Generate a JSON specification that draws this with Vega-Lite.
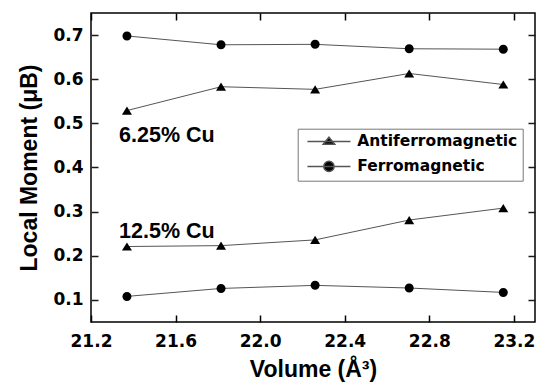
{
  "$schema": "https://vega.github.io/schema/vega-lite/v6.json",
  "width": 444,
  "height": 309,
  "autosize": {"type": "none"},
  "padding": {"left": 91, "top": 13, "right": 1, "bottom": 65},
  "background": "white",
  "config": {
    "view": {"stroke": "black", "strokeWidth": 1.5},
    "axis": {
      "grid": false,
      "domain": false,
      "labelFont": "DejaVu Sans",
      "labelFontWeight": "bold",
      "labelFontSize": 17,
      "labelColor": "black",
      "labelOverlap": false,
      "labelBound": false,
      "titleFont": "Liberation Sans",
      "titleFontWeight": "bold",
      "titleFontSize": 23,
      "titleColor": "black"
    }
  },
  "datasets": {
    "moments": [
      {"vol": 21.37, "moment": 0.529, "type": "Antiferromagnetic", "cu": "6.25%"},
      {"vol": 21.815, "moment": 0.583, "type": "Antiferromagnetic", "cu": "6.25%"},
      {"vol": 22.26, "moment": 0.577, "type": "Antiferromagnetic", "cu": "6.25%"},
      {"vol": 22.705, "moment": 0.613, "type": "Antiferromagnetic", "cu": "6.25%"},
      {"vol": 23.15, "moment": 0.588, "type": "Antiferromagnetic", "cu": "6.25%"},
      {"vol": 21.37, "moment": 0.698, "type": "Ferromagnetic", "cu": "6.25%"},
      {"vol": 21.815, "moment": 0.678, "type": "Ferromagnetic", "cu": "6.25%"},
      {"vol": 22.26, "moment": 0.679, "type": "Ferromagnetic", "cu": "6.25%"},
      {"vol": 22.705, "moment": 0.669, "type": "Ferromagnetic", "cu": "6.25%"},
      {"vol": 23.15, "moment": 0.668, "type": "Ferromagnetic", "cu": "6.25%"},
      {"vol": 21.37, "moment": 0.221, "type": "Antiferromagnetic", "cu": "12.5%"},
      {"vol": 21.815, "moment": 0.223, "type": "Antiferromagnetic", "cu": "12.5%"},
      {"vol": 22.26, "moment": 0.236, "type": "Antiferromagnetic", "cu": "12.5%"},
      {"vol": 22.705, "moment": 0.281, "type": "Antiferromagnetic", "cu": "12.5%"},
      {"vol": 23.15, "moment": 0.308, "type": "Antiferromagnetic", "cu": "12.5%"},
      {"vol": 21.37, "moment": 0.108, "type": "Ferromagnetic", "cu": "12.5%"},
      {"vol": 21.815, "moment": 0.126, "type": "Ferromagnetic", "cu": "12.5%"},
      {"vol": 22.26, "moment": 0.133, "type": "Ferromagnetic", "cu": "12.5%"},
      {"vol": 22.705, "moment": 0.127, "type": "Ferromagnetic", "cu": "12.5%"},
      {"vol": 23.15, "moment": 0.117, "type": "Ferromagnetic", "cu": "12.5%"}
    ],
    "notes": [
      {"vol": 21.333, "moment": 0.458, "label": "6.25% Cu"},
      {"vol": 21.333, "moment": 0.241, "label": "12.5% Cu"}
    ]
  },
  "data": {"name": "moments"},
  "resolve": {"axis": {"x": "independent", "y": "independent"}, "scale": {"shape": "independent"}},
  "layer": [
    {
      "mark": {"type": "line", "color": "#555555", "strokeWidth": 1},
      "encoding": {
        "x": {"field": "vol", "type": "quantitative", "scale": {"domain": [21.2, 23.3], "nice": false, "zero": false},
          "axis": {"orient": "bottom",
            "values": [21.2, 21.6, 22.0, 22.4, 22.8, 23.2],
            "format": ".1f",
            "ticks": true, "tickSize": -7, "tickColor": "#000000", "tickWidth": 1.5,
            "labelPadding": 18, "labelFlush": false, "title": "Volume (Å³)", "titlePadding": 9}},
        "y": {"field": "moment", "type": "quantitative", "scale": {"domain": [0.05, 0.75], "nice": false, "zero": false},
          "axis": {"orient": "left",
            "values": [0.1, 0.2, 0.3, 0.4, 0.5, 0.6, 0.7],
            "format": ".1f",
            "ticks": true, "tickSize": -7, "tickColor": "#1a1a1a", "tickWidth": 1.5,
            "labelPadding": 15, "title": "Local Moment (μB)", "titlePadding": 11}},
        "detail": [{"field": "type", "type": "nominal"}, {"field": "cu", "type": "nominal"}]
      }
    },
    {
      "mark": {"type": "point", "filled": true, "size": 100, "color": "black", "opacity": 1},
      "encoding": {
        "x": {"field": "vol", "type": "quantitative", "scale": {"domain": [21.2, 23.3], "nice": false, "zero": false},
          "axis": {"orient": "top",
            "values": [21.2, 21.6, 22.0, 22.4, 22.8, 23.2],
            "labels": false, "ticks": true, "tickSize": -7, "tickColor": "#000000", "tickWidth": 1.5, "title": null}},
        "y": {"field": "moment", "type": "quantitative", "scale": {"domain": [0.05, 0.75], "nice": false, "zero": false},
          "axis": {"orient": "right",
            "values": [0.1, 0.2, 0.3, 0.4, 0.5, 0.6, 0.7],
            "labels": false, "ticks": true, "tickSize": -7, "tickColor": "#1a1a1a", "tickWidth": 1.5, "title": null}},
        "shape": {
          "field": "type", "type": "nominal",
          "scale": {"domain": ["Antiferromagnetic", "Ferromagnetic"], "range": ["M-1,0.82L1,0.82L0,-0.82Z", "M-0.9,0A0.9,0.9,0,1,0,0.9,0A0.9,0.9,0,1,0,-0.9,0Z"]},
          "legend": null
        }
      }
    },
    {
      "transform": [{"filter": "datum.vol < 0"}],
      "mark": {"type": "point", "filled": true, "size": 100, "color": "black", "opacity": 1, "stroke": "#555555", "strokeWidth": 1},
      "encoding": {
        "x": {"field": "vol", "type": "quantitative", "scale": {"domain": [21.2, 23.3], "nice": false, "zero": false}, "axis": null},
        "y": {"field": "moment", "type": "quantitative", "scale": {"domain": [0.05, 0.75], "nice": false, "zero": false}, "axis": null},
        "shape": {
          "field": "type", "type": "nominal",
          "scale": {"domain": ["Antiferromagnetic", "Ferromagnetic"], "range": ["M-4.3,0L4.3,0M-1.15,0.55L1.15,0.55L0,-0.85Z", "M-4.3,0L4.3,0M-1.03,0A1.03,1.03,0,1,0,1.03,0A1.03,1.03,0,1,0,-1.03,0Z"]},
          "legend": {
            "title": null,
            "orient": "none",
            "legendX": 206.7,
            "legendY": 115.7,
            "strokeColor": "#777777",
            "fillColor": "white",
            "padding": 5,
            "rowPadding": 7,
            "symbolSize": 100,
            "symbolOffset": 18.5,
            "labelOffset": 20.5,
            "labelLimit": 0,
            "labelFont": "DejaVu Sans",
            "labelFontWeight": "bold",
            "labelFontSize": 15.5,
            "labelColor": "black"
          }
        }
      }
    },
    {
      "data": {"name": "notes"},
      "mark": {"type": "text", "align": "left", "baseline": "alphabetic", "font": "Liberation Sans", "fontWeight": "bold", "fontSize": 21.5, "color": "black"},
      "encoding": {
        "x": {"field": "vol", "type": "quantitative", "scale": {"domain": [21.2, 23.3], "nice": false, "zero": false}, "axis": null},
        "y": {"field": "moment", "type": "quantitative", "scale": {"domain": [0.05, 0.75], "nice": false, "zero": false}, "axis": null},
        "text": {"field": "label", "type": "nominal"}
      }
    }
  ]
}
